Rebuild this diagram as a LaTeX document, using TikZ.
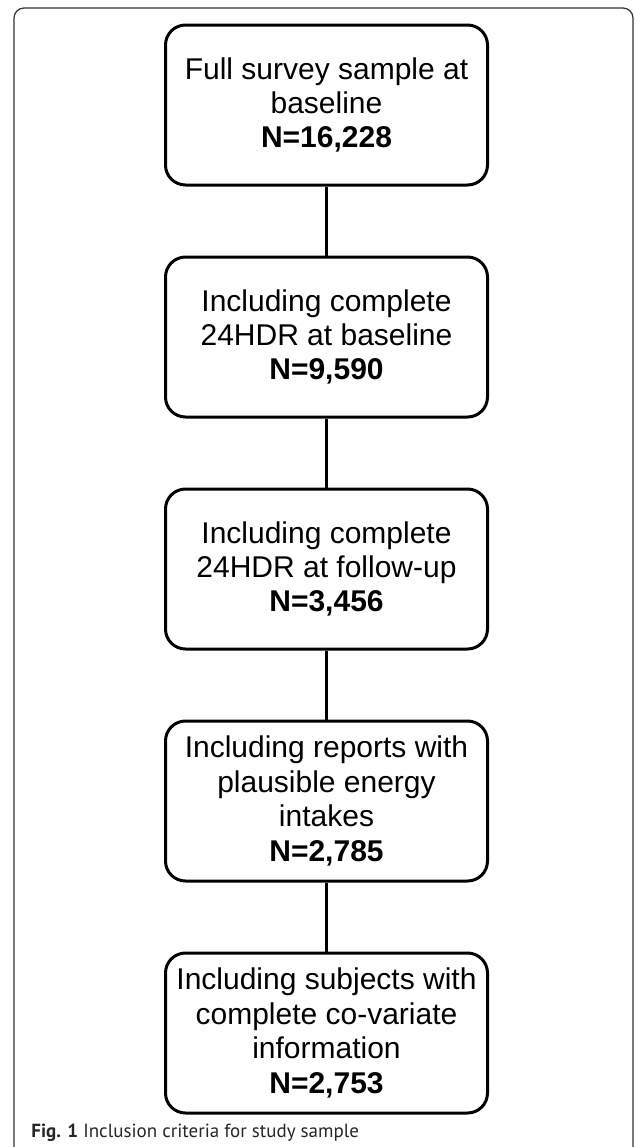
\documentclass[tikz,border=0pt]{standalone}
\usepackage{fontspec}
\newfontfamily\boxfont{Liberation Sans}
\newfontfamily\capfont{PT Sans}
\usepackage{tikz}
\usetikzlibrary{positioning}

\begin{document}
\begin{tikzpicture}[
    stage/.style={rectangle, rounded corners=10pt, draw, line width=1.5pt,
        minimum width=161pt, minimum height=80pt, inner sep=2pt, align=center,
        font=\boxfont\fontsize{15}{17.2}\selectfont},
    link/.style={line width=1.3pt},
    frame/.style={draw=black!80, line width=0.6pt, rounded corners=5pt},
    caption/.style={font=\capfont\fontsize{9.5}{11}\selectfont, text=black!85, inner sep=0pt},
    node distance=34.5pt
]
    \useasboundingbox (0,0) rectangle (317.5pt,-573.5pt);
    \draw[frame] (7pt,-590pt) rectangle (316.5pt,-4pt);

    % Stages
    \node[stage] (full) at (163.25pt,-52.5pt)	{Full survey sample at\\baseline\\\textbf{N=16,228}};
    \node[stage, below=of full] (base) 		{Including complete\\24HDR at baseline\\\textbf{N=9,590}};
    \node[stage, below=of base] (follow) 		{Including complete\\24HDR at follow-up\\\textbf{N=3,456}};
    \node[stage, below=of follow] (plaus) 		{Including reports with\\plausible energy\\intakes\\\textbf{N=2,785}};
    \node[stage, below=of plaus] (covar) 		{Including subjects with\\complete co-variate\\information\\\textbf{N=2,753}};

    % Links
    \draw[link] (full) -- (base);
    \draw[link] (base) -- (follow);
    \draw[link] (follow) -- (plaus);
    \draw[link] (plaus) -- (covar);

    % Caption
    \node[caption, anchor=base west] (cap) at (15.5pt,-568.5pt) {\textbf{Fig. 1} Inclusion criteria for study sample};
\end{tikzpicture}
\end{document}
